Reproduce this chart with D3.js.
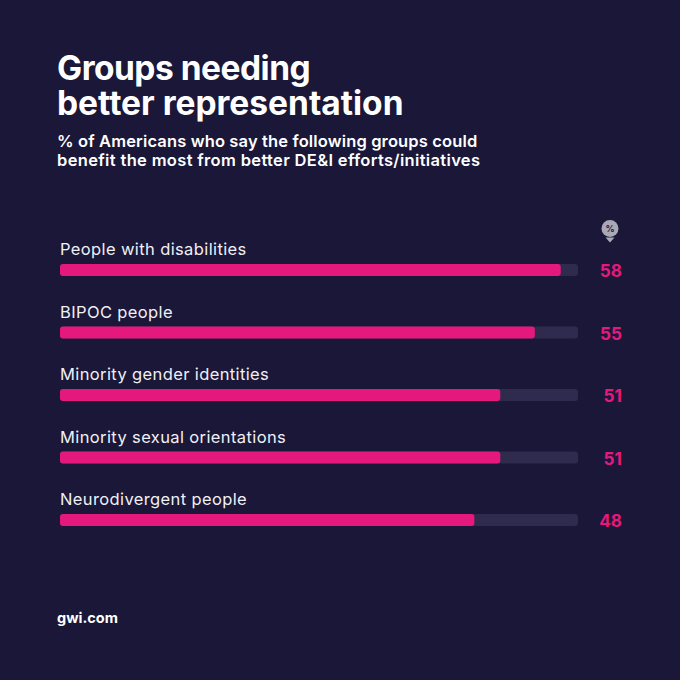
<!DOCTYPE html>
<html><head><meta charset="utf-8">
<script src="https://cdn.jsdelivr.net/npm/d3@7"></script>
<style>html,body{margin:0;padding:0;background:#1a1738}svg{display:block}</style>
</head><body><svg id="c" width="680" height="680"></svg>
<script>
const categories = ["People with disabilities","BIPOC people","Minority gender identities","Minority sexual orientations","Neurodivergent people"];
const values = [58,55,51,51,48];
const titleLines = ["Groups needing","better representation"];
const subtitleLines = ["% of Americans who say the following groups could","benefit the most from better DE&I efforts/initiatives"];
const svg = d3.select("#c");
const F = "Inter, 'Open Sans', sans-serif";
svg.append("rect").attr("width",680).attr("height",680).attr("fill","#1a1738");
const title = svg.append("text").attr("fill","#fff").attr("font-family",F).attr("font-size",33.5).attr("font-weight",700);
title.selectAll("tspan").data(titleLines).join("tspan").attr("x",57).attr("y",(d,i)=>80+i*35).attr("letter-spacing",(d,i)=>i?0:-0.5).text(d=>d);
const sub = svg.append("text").attr("fill","#fff").attr("font-family",F).attr("font-size",16.5).attr("font-weight",600);
sub.selectAll("tspan").data(subtitleLines).join("tspan").attr("x",57).attr("y",(d,i)=>147+i*19).attr("letter-spacing",(d,i)=>i?0.34:0.14).text(d=>d);
const x = d3.scaleLinear().domain([0,60]).range([60,578]);
const y = d3.scalePoint().domain(categories).range([270,520]);
const g = svg.append("g");
categories.forEach((c,i)=>{
 const yy=y(c);
 g.append("rect").attr("x",x(0)).attr("y",yy-6).attr("width",x(60)-x(0)).attr("height",12).attr("rx",3).attr("fill","#2e2b4e");
 g.append("rect").attr("x",x(0)).attr("y",yy-6).attr("width",x(values[i])-x(0)).attr("height",12).attr("rx",3).attr("fill","#e5197d");
 g.append("text").attr("x",60).attr("y",yy-15).attr("fill","#f0f0f4").attr("font-family",F).attr("font-size",16.5).attr("letter-spacing",0.38).text(c);
 g.append("text").attr("x",622).attr("y",yy+7).attr("text-anchor","end").attr("fill","#e5197d").attr("font-family",F).attr("font-size",17.2).attr("font-weight",700).text(values[i]);
});
const ic = svg.append("g");
ic.append("circle").attr("cx",610).attr("cy",228.5).attr("r",8.5).attr("fill","#a9a8b6");
ic.append("path").attr("d",d3.line()([[605.5,237.5],[614.5,237.5],[610,242.5]])+"Z").attr("fill","#a9a8b6");
ic.append("text").attr("x",610).attr("y",231.5).attr("text-anchor","middle").attr("font-family",F).attr("font-size",9).attr("font-weight",700).attr("fill","#1a1738").text("%");
svg.append("text").attr("x",57).attr("y",623).attr("fill","#fff").attr("font-family",F).attr("font-size",14.5).attr("font-weight",700).text("gwi.com");
</script></body></html>
